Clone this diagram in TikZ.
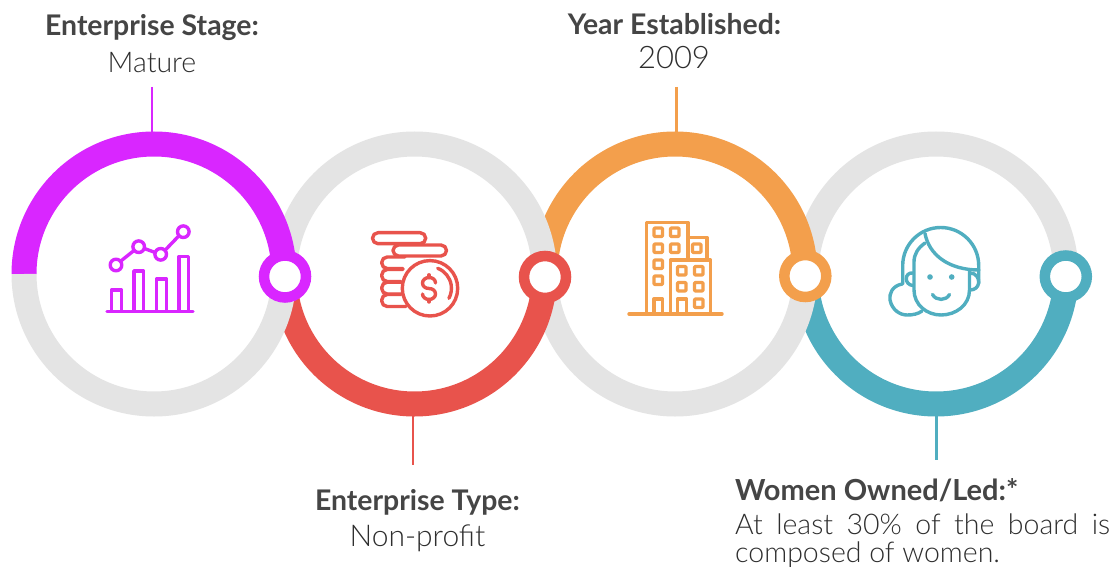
\documentclass[tikz,border=0pt]{standalone}
\usepackage{fontspec}
\setmainfont{Lato}
\newfontfamily\lightf{Lato Light}
\definecolor{cA}{HTML}{D926FF}
\definecolor{cB}{HTML}{E8534C}
\definecolor{cC}{HTML}{F39F4C}
\definecolor{cD}{HTML}{50AEC0}
\definecolor{gr}{HTML}{E4E4E4}
\definecolor{tx}{HTML}{454545}
\definecolor{txl}{HTML}{2E2E2E}
\tikzset{
 ringg/.style={draw=gr,line width=25pt},
 arcc/.style={line width=25pt},
 knob/.style={circle,line width=10.5pt,fill=white,minimum size=42pt,inner sep=0pt},
 lead/.style={line width=2.2pt},
 ico/.style={line width=3.4pt,line cap=round,line join=round},
 win/.style={rounded corners=1pt},
 head/.style={font=\fontsize{28.4}{32}\selectfont\bfseries,text=tx,inner sep=0pt},
 body/.style={font=\fontsize{28.5}{32}\selectfont\lightf,text=txl,inner sep=0pt},
}
\begin{document}
\begin{tikzpicture}[x=1pt,y=-1pt]
\useasboundingbox (0,0) rectangle (1118,569);
\fill[white] (0,0) rectangle (1118,569);
% stacking: ring 4 top < orange < ring 2 top < magenta
\draw[ringg] (806,274) arc[start angle=180,end angle=360,radius=130];
\draw[arcc,draw=cC] (545,274) arc[start angle=180,end angle=360,radius=130];
\draw[ringg] (284.5,274) arc[start angle=180,end angle=360,radius=130];
\draw[arcc,draw=cA] (24,274) arc[start angle=180,end angle=360,radius=130];
% stacking: teal < ring 3 bottom < red < ring 1 bottom
\draw[arcc,draw=cD] (806,274) arc[start angle=180,end angle=0,radius=130];
\draw[ringg] (545,274) arc[start angle=180,end angle=0,radius=130];
\draw[arcc,draw=cB] (284.5,274) arc[start angle=180,end angle=0,radius=130];
\draw[ringg] (24,274) arc[start angle=180,end angle=0,radius=130];
% knobs
\node[knob,draw=cA] (k1) at (285,276.5) {};
\node[knob,draw=cB] (k2) at (545,277) {};
\node[knob,draw=cC] (k3) at (805.3,276) {};
\node[knob,draw=cD] (k4) at (1065.8,276.5) {};
% labels
\node[head] (t1) at (152,28) {Enterprise Stage:};
\node[body] (b1) at (152,63) {Mature};
\node[head] (t2) at (417.5,502) {Enterprise Type:};
\node[body,font=\fontsize{30}{32}\selectfont\lightf] (b2) at (417.5,538) {Non-profit};
\node[head] (t3) at (674.5,24) {Year Established:};
\node[body,font=\fontsize{31}{32}\selectfont\lightf] (b3) at (674,58) {2009};
\node[head,anchor=west,font=\fontsize{29}{32}\selectfont\bfseries] (t4) at (735,490) {Women Owned/Led:*};
\node[body,anchor=west] (b4) at (735,524) {\hbox to 375pt{At\hfill least\hfill 30\%\hfill of\hfill the\hfill board\hfill is}};
\node[body,anchor=west] (b5) at (735,555) {composed of women.};
% leaders
\coordinate (l1a) at (152,87); \coordinate (l1b) at (152,132);
\coordinate (l2a) at (413,416); \coordinate (l2b) at (413,465);
\coordinate (l3a) at (676.5,87); \coordinate (l3b) at (676.5,132);
\coordinate (l4a) at (936.5,416); \coordinate (l4b) at (936.5,460);
\draw[lead,cA] (l1a)--(l1b);
\draw[lead,cB] (l2a)--(l2b);
\draw[lead,cC] (l3a)--(l3b);
\draw[lead,cD] (l4a)--(l4b);
% chart icon
\begin{scope}[ico,draw=cA]
\draw (107,311.7)--(193,311.7);
\draw (111.5,311)--(111.5,290)--(121.5,290)--(121.5,311);
\draw (134,311)--(134,271)--(143.5,271)--(143.5,311);
\draw (156.5,311)--(156.5,279)--(166.5,279)--(166.5,311);
\draw (179,311)--(179,256.5)--(188.5,256.5)--(188.5,311);
\draw (116,265) circle[radius=5.8];
\draw (138.7,246.7) circle[radius=5.8];
\draw (160.7,254.3) circle[radius=5.8];
\draw (183.3,231.7) circle[radius=5.8];
\draw (120.5,261.3)--(134,250.5);
\draw (144.3,248.5)--(155.2,252.5);
\draw (165,250.3)--(179,235.7);
\end{scope}
% coins icon
\begin{scope}[ico,draw=cB]
\draw[rounded corners=5.5pt] (372.5,232.7) rectangle (425.7,243.7);
\draw[rounded corners=5.5pt] (393,245) rectangle (446.5,256);
\draw[rounded corners=5.5pt] (405,257) -- (381.7,257) -- (381.7,268.5) -- (403,268.5);
\draw[rounded corners=5.5pt] (403,269.5) -- (381.7,269.5) -- (381.7,281.5) -- (401,281.5);
\draw[rounded corners=5.5pt] (401,282.2) -- (381.7,282.2) -- (381.7,294) -- (401,294);
\draw[rounded corners=5.5pt] (401,294.5) -- (381.7,294.5) -- (381.7,306.5) -- (406,306.5);
\fill[white] (430,288.3) circle[radius=27.7];
\draw (430,288.3) circle[radius=27.7];
\draw (437.7,268.3) arc[start angle=-69,end angle=28,radius=21.4];
\draw (435.5,283) .. controls (435.5,279.5) and (432.5,277.5) .. (429,277.5) .. controls (425.5,277.5) and (422.5,280) .. (422.5,283) .. controls (422.5,286.5) and (425.5,288.5) .. (429,288.5) .. controls (432.5,288.5) and (435.5,290.5) .. (435.5,294) .. controls (435.5,297) and (432.5,299.5) .. (429,299.5) .. controls (425.5,299.5) and (422.5,297) .. (422.5,294);
\draw (429,274.8)--(429,277.5);
\draw (429,299.5)--(429,302);
\end{scope}
% building icon
\begin{scope}[ico,draw=cC]
\draw (629,314)--(722,314);
\draw (646.5,314)--(646.5,222.5)--(688,222.5)--(688,258);
\draw (688,237.5)--(707,237.5)--(707,258);
\draw (670.5,314)--(670.5,260)--(710.5,260)--(710.5,314);
\foreach \x/\y in {654/228,670.5/228,654/244,670.5/244,654/260,654/276,692.5/244}{\draw[win] (\x,\y) rectangle +(8.5,8.5);}
\foreach \x/\y in {677.5/266.5,694.5/266.5,677.5/282.5,694.5/282.5,694.5/299}{\draw[win] (\x,\y) rectangle +(8.5,8.5);}
\draw (654,314)--(654,299)--(662.5,299)--(662.5,314);
\draw (677.5,314)--(677.5,299)--(686.5,299)--(686.5,314);
\end{scope}
% woman icon
\begin{scope}[ico,draw=cD]
\draw (902.7,284) -- (902.7,265.5) arc[start angle=180,end angle=360,radius=38] -- (978.7,283);
\draw (925,233.5) .. controls (929,255) and (949,270) .. (979,270);
\draw (925,243) .. controls (918,248) and (914,254) .. (914,262) -- (914,290) .. controls (914,305) and (927,315) .. (941,315) .. controls (956,315) and (969.5,305) .. (969.5,290) -- (969.5,270);
\draw (913,273) .. controls (904,272) and (904,285) .. (913,285.5);
\draw (970,273) .. controls (976,273) and (979,278) .. (978.7,283) .. controls (978,287) and (975,290) .. (970,290);
\draw (902,284) .. controls (892,286) and (889,294) .. (890,300) .. controls (892,310) and (900,315) .. (907,315) .. controls (913,315) and (918,314) .. (922,311);
\draw (932.5,294.5) .. controls (936,301) and (946,301) .. (949.5,294.5);
\fill[cD] (930,277) circle[radius=2.8];
\fill[cD] (951.7,277) circle[radius=2.8];
\end{scope}
\end{tikzpicture}
\end{document}
